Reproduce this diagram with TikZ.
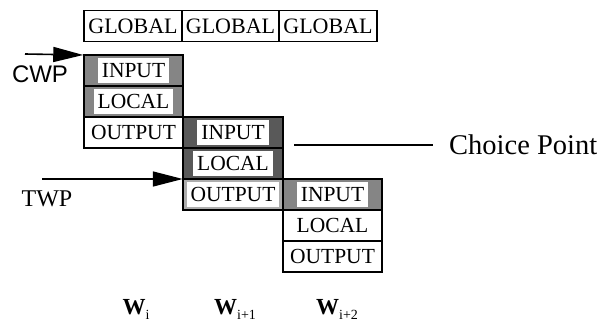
\documentclass[tikz,border=0pt]{standalone}
\usepackage{fontspec}
\setmainfont{Liberation Serif}
\setsansfont{Liberation Sans}
\usepackage{tikz}
\usetikzlibrary{positioning}
\usetikzlibrary{arrows.meta}

\definecolor{midshade}{gray}{0.52}
\definecolor{darkshade}{gray}{0.35}
\definecolor{lightshade}{gray}{0.68}

% white patch behind the text of a shaded cell
\newcommand{\wb}[1]{{\setlength{\fboxsep}{0pt}\colorbox{white}{\rule[-6pt]{0pt}{25pt}\hspace{4pt}#1\hspace{4pt}}}}
\newcommand{\wlab}[1]{\textbf{W}\raisebox{-5pt}{\fontsize{14}{14}\selectfont #1}}

\begin{document}
\begin{tikzpicture}[x=1pt,y=-1pt,
    cell/.style={draw,line width=1.3pt,minimum width=99.5pt,minimum height=31pt,inner sep=0pt,outer sep=0pt,font=\fontsize{21.5}{22}\selectfont},
    glob/.style={cell,minimum width=97.5pt,line width=1.8pt,font=\fontsize{22}{22}\selectfont},
    frame/.style={line width=2pt},
    ptr/.style={-{Triangle[length=30pt,width=15pt]},line width=1.6pt,shorten >=0.5pt}]

	\useasboundingbox (0,0) rectangle (604,321);

	% global registers
	\node[glob] (g1) at (133,26) {GLOBAL};
	\node[glob,right=0pt of g1] (g2) {GLOBAL};
	\node[glob,right=0pt of g2] (g3) {GLOBAL};

	% window i
	\node[cell,fill=midshade] (in1) at (133.5,70.5) {\wb{INPUT}};
	\node[cell,fill=midshade,below=0pt of in1] (loc1) {\wb{LOCAL}};
	\node[cell,below=0pt of loc1] (out1) {OUTPUT};

	% window i+1
	\node[cell,fill=darkshade,anchor=north west] (in2) at (out1.north east) {\wb{INPUT}};
	\node[cell,fill=darkshade,below=0pt of in2] (loc2) {\wb{LOCAL}};
	\node[cell,fill=lightshade,below=0pt of loc2] (out2) {\wb{OUTPUT}};

	% window i+2
	\node[cell,fill=midshade,anchor=north west] (in3) at (out2.north east) {\wb{INPUT}};
	\node[cell,below=0pt of in3] (loc3) {LOCAL};
	\node[cell,below=0pt of loc3] (out3) {OUTPUT};

	\draw[frame] (in1.north west) rectangle (out1.south east);
	\draw[frame] (in2.north west) rectangle (out2.south east);
	\draw[frame] (in3.north west) rectangle (out3.south east);

	% window pointers
	\coordinate (cwptail) at (25,54);
	\coordinate (twptail) at (42,179);
	\node[font=\sffamily\fontsize{24}{24}\selectfont] (cwp) at (40,74) {CWP};
	\node[font=\fontsize{24}{24}\selectfont] (twp) at (47,199) {TWP};
	\draw[ptr] (cwptail) -- (in1.north west);
	\draw[ptr] (twptail) -- (out2.north west);

	% choice point
	\coordinate (cpline) at (294,145);
	\node[anchor=west,inner sep=0pt,font=\fontsize{28.5}{29}\selectfont] (choice) at (449,145) {Choice Point};
	\draw[line width=1.3pt,shorten >=16pt] (cpline) -- (choice.west);

	% window names
	\node[font=\fontsize{23}{23}\selectfont] (w1) at (136,309) {\wlab{i}};
	\node[font=\fontsize{23}{23}\selectfont] (w2) at (235,309) {\wlab{i+1}};
	\node[font=\fontsize{23}{23}\selectfont] (w3) at (337,309) {\wlab{i+2}};
\end{tikzpicture}
\end{document}
